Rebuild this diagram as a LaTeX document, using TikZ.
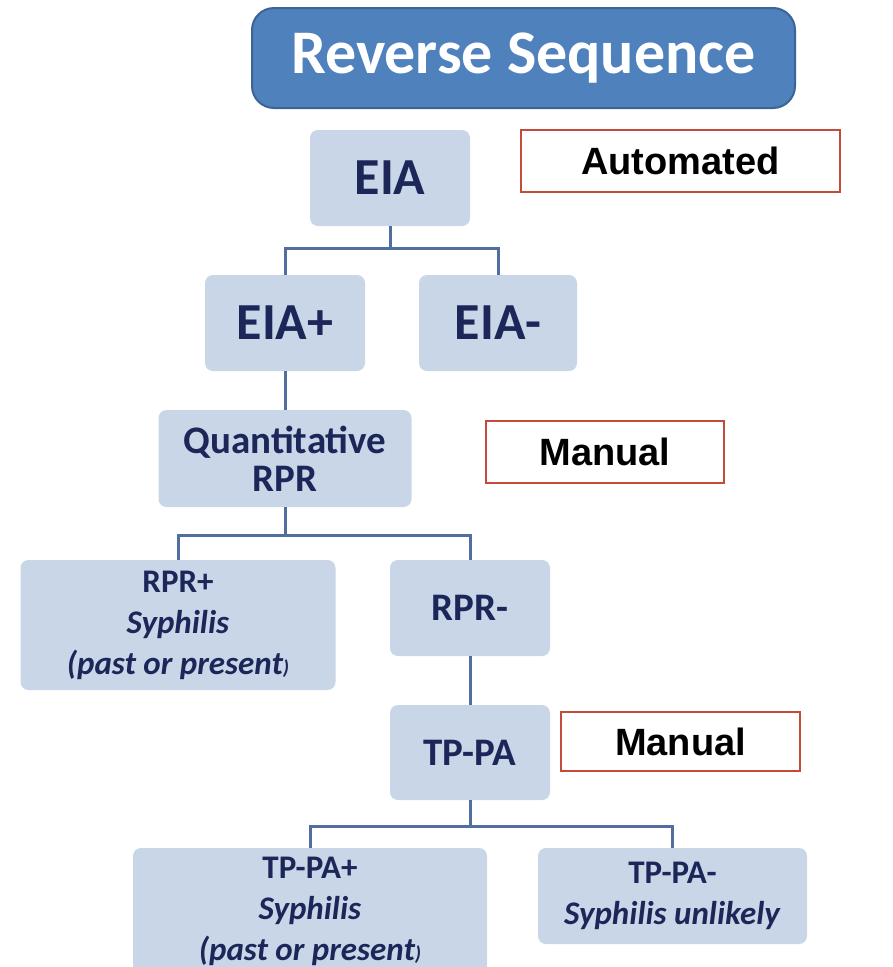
\documentclass[tikz,border=0pt]{standalone}
\usepackage{fontspec}
\usepackage{tikz}
\newfontfamily\calfont{Carlito}
\newfontfamily\arfont{Liberation Sans}
\definecolor{boxfill}{RGB}{201,214,231}
\definecolor{navytext}{RGB}{28,38,88}
\definecolor{titleblue}{RGB}{79,129,189}
\definecolor{titleedge}{RGB}{60,100,150}
\definecolor{tagred}{RGB}{196,74,58}
\definecolor{linkblue}{RGB}{80,110,158}
\newcommand{\smallparen}{{\fontsize{20}{20}\selectfont)}}

\begin{document}
\begin{tikzpicture}[x=1pt,y=-1pt,
  box/.style={rectangle,rounded corners=8pt,fill=boxfill,text=navytext,align=center,inner sep=0pt},
  big/.style={font=\calfont\bfseries\fontsize{52}{60}\selectfont},
  mid/.style={font=\calfont\bfseries\fontsize{39}{38}\selectfont},
  small/.style={font=\calfont\bfseries\fontsize{33}{41}\selectfont},
  tag/.style={rectangle,draw=tagred,line width=2.5pt,fill=white,inner sep=0pt,
    font=\arfont\bfseries\fontsize{38}{40}\selectfont},
  link/.style={draw=linkblue,line width=3pt}]
\useasboundingbox (0,0) rectangle (892,967);
\clip (0,0) rectangle (892,967);

\node[rectangle,rounded corners=22pt,fill=titleblue,draw=titleedge,line width=2pt,
  minimum width=543pt,minimum height=100pt,text=white,
  font=\calfont\bfseries\fontsize{62}{70}\selectfont] (title) at (523.5,58) {Reverse Sequence};

\node[box,big,minimum width=160pt,minimum height=96pt] (eia) at (390,178) {EIA};
\node[tag,minimum width=319pt,minimum height=62pt] (auto) at (680.5,161) {Automated};
\node[box,big,minimum width=160pt,minimum height=96pt] (eiap) at (285,323) {EIA+};
\node[box,big,minimum width=158pt,minimum height=96pt] (eiam) at (498,323) {EIA-};

\node[box,mid,minimum width=253pt,minimum height=97pt] (qrpr) at (285,458.5) {Quantitative\\RPR};
\node[tag,minimum width=238pt,minimum height=62pt] (man1) at (605,452) {Manual};

\node[box,small,minimum width=315pt,minimum height=130pt] (rprp) at (178,625)
  {RPR+\\\textit{Syphilis}\\\textit{(past or present\smallparen}};
\node[box,mid,minimum width=160pt,minimum height=96pt] (rprm) at (470,608) {RPR-};

\node[box,mid,minimum width=160pt,minimum height=95pt] (tppa) at (470,752.5) {TP-PA};
\node[tag,minimum width=239pt,minimum height=59pt] (man2) at (680.5,741.5) {Manual};

\node[box,small,minimum width=354pt,minimum height=127pt] (tppap) at (310,911.5)
  {TP-PA+\\\textit{Syphilis}\\\textit{(past or present\smallparen}};
\node[box,small,minimum width=269pt,minimum height=96pt] (tppam) at (672.5,896)
  {TP-PA-\\\textit{Syphilis unlikely}};

\draw[link] (eia.south) -- ++(0,22) coordinate (j1);
\draw[link] (eiap.north) |- (j1) -| (eiam.north);
\draw[link] (eiap.south) -- (qrpr.north);
\draw[link] (qrpr.south) -- ++(0,28) coordinate (j2);
\draw[link] (rprp.north) |- (j2) -| (rprm.north);
\draw[link] (rprm.south) -- (tppa.north);
\draw[link] (tppa.south) -- ++(0,26) coordinate (j3);
\draw[link] (tppap.north) |- (j3) -| (tppam.north);
\end{tikzpicture}
\end{document}
